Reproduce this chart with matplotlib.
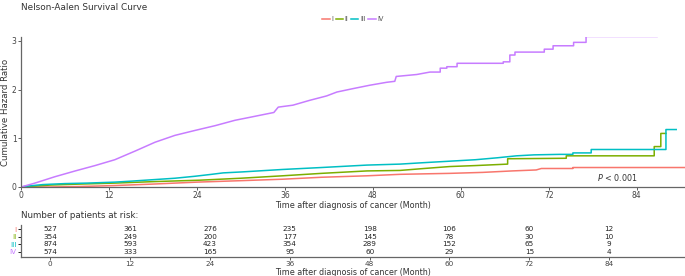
import matplotlib
matplotlib.use("Agg")
import matplotlib.pyplot as plt

groups = ["I", "II", "III", "IV"]
colors = ["#F8766D", "#7CAE00", "#00BFC4", "#C77CFF"]

t_I = [0, 4, 8, 12.8, 18, 24, 30, 35.7, 41, 47.2, 51.7, 55, 58.5, 63, 67, 70.3, 71, 75.3, 75.3, 90.6]
h_I = [0, 0.0, 0.01, 0.03, 0.06, 0.10, 0.13, 0.16, 0.20, 0.23, 0.26, 0.27, 0.28, 0.30, 0.33, 0.35, 0.38, 0.38, 0.40, 0.40]

t_II = [0, 2, 4, 8, 12.8, 18, 24.4, 30, 35.7, 41, 47.2, 51.7, 55, 58.5, 62, 66.4, 66.4, 74.4, 74.4, 86.4, 86.4, 87.3, 87.3, 88]
h_II = [0, 0.02, 0.04, 0.06, 0.08, 0.11, 0.14, 0.18, 0.23, 0.28, 0.33, 0.34, 0.38, 0.42, 0.44, 0.47, 0.58, 0.59, 0.64, 0.64, 0.83, 0.83, 1.10, 1.10]

t_III = [0, 1, 3, 6, 9, 12.8, 15, 18, 21, 23.7, 26, 27.6, 30.2, 35.7, 41, 47.2, 51.7, 55, 58.5, 62, 65, 67.6, 70, 73.5, 75.3, 75.3, 77.8, 77.8, 88, 88, 89.4]
h_III = [0, 0.02, 0.05, 0.07, 0.08, 0.10, 0.12, 0.15, 0.18, 0.22, 0.26, 0.29, 0.31, 0.36, 0.40, 0.45, 0.47, 0.50, 0.53, 0.56, 0.60, 0.64, 0.66, 0.67, 0.67, 0.70, 0.70, 0.77, 0.77, 1.18, 1.18]

t_IV = [0, 1.9, 4.6, 7.4, 10.1, 12.8, 15.6, 18.3, 21.0, 23.7, 26.5, 29.2, 31.2, 33.5, 34.5, 35.1, 37.1, 39.4, 41.7, 43.1,
        45.3, 47.6, 49.9, 51.0, 51.2, 54.0, 55.8, 57.2, 57.2, 58.1, 58.1, 59.5, 59.5, 65.8, 65.8, 66.7, 66.7, 67.4, 67.4,
        71.4, 71.4, 72.6, 72.6, 75.4, 75.4, 77.1, 77.1]
h_IV = [0, 0.08, 0.21, 0.33, 0.44, 0.56, 0.74, 0.92, 1.06, 1.16, 1.26, 1.37, 1.43, 1.50, 1.53, 1.64, 1.68, 1.78, 1.87, 1.95,
        2.02, 2.09, 2.15, 2.17, 2.27, 2.31, 2.36, 2.36, 2.44, 2.44, 2.47, 2.47, 2.54, 2.54, 2.57, 2.57, 2.71, 2.71, 2.77,
        2.77, 2.83, 2.83, 2.90, 2.90, 2.97, 2.97, 3.08]
t_IV_tail = [77.1, 86.8]
h_IV_tail = [3.08, 3.08]

risk_times = [0, 12, 24, 36, 48, 60, 72, 84]
risk_I = [527, 361, 276, 235, 198, 106, 60, 12]
risk_II = [354, 249, 200, 177, 145, 78, 30, 10]
risk_III = [874, 593, 423, 354, 289, 152, 65, 9]
risk_IV = [574, 333, 165, 95, 60, 29, 15, 4]

xticks = [0, 12, 24, 36, 48, 60, 72, 84]
yticks = [0, 1, 2, 3]

plt.rcParams['font.family'] = ['DejaVu Sans']
fig = plt.figure(figsize=(6.85, 2.76), dpi=100)
W, H = 685, 276

def rect(l, t, r, b):
    return [l / W, 1 - b / H, (r - l) / W, (b - t) / H]

ax = fig.add_axes(rect(21, 37, 685, 187))
series = [(t_I, h_I), (t_II, h_II), (t_III, h_III), (t_IV, h_IV)]
for (tt, hh), c, g in zip(series, colors, groups):
    ax.plot(tt, hh, color=c, lw=1.1, label=g)
ax.plot(t_IV_tail, h_IV_tail, color=colors[3], lw=1.1, alpha=0.3)
ax.set_xlim(0, 90.6)
ax.set_ylim(0, 3.08)
ax.set_xticks(xticks)
ax.set_yticks(yticks)
for s in ["top", "right"]:
    ax.spines[s].set_visible(False)
for s in ["left", "bottom"]:
    ax.spines[s].set_color("#666666")
    ax.spines[s].set_linewidth(0.9)
ax.tick_params(labelsize=5.5, colors="#444444", length=2, width=0.6, pad=1.2)
ax.set_xlabel("Time after diagnosis of cancer (Month)", fontsize=5.8, color="#333333", labelpad=0.5)
ax.set_ylabel("Cumulative Hazard Ratio", fontsize=6.2, color="#333333", labelpad=1)
ax.text(81.4, 0.19, "$P$ < 0.001", fontsize=5.8, ha="center", va="center", color="#333333")
leg = ax.legend(loc="lower center", bbox_to_anchor=(0.5, 1.08), ncol=4, frameon=False, fontsize=4.8,
                handlelength=1.1, handletextpad=0.25, columnspacing=0.4, borderaxespad=0)
for txt in leg.get_texts():
    txt.set_color("#555555")

fig.text(21 / W, 1 - 8 / H, "Nelson-Aalen Survival Curve", fontsize=6.4, color="#333333", va="center", ha="left")
fig.text(21 / W, 1 - 215.5 / H, "Number of patients at risk:", fontsize=6.3, color="#333333", va="center", ha="left")

rx = fig.add_axes(rect(21, 225, 685, 257))
rows = [risk_I, risk_II, risk_III, risk_IV]
for i, row in enumerate(rows):
    y = 3 - i
    for tt, n in zip(risk_times, row):
        rx.text(tt, y, str(n), fontsize=5.2, ha="center", va="center", color="#222222")
rx.set_xlim(-4.4, 95.4)
rx.set_ylim(-0.72, 3.58)
rx.set_xticks(risk_times)
rx.set_yticks([3, 2, 1, 0])
rx.set_yticklabels(groups)
for lab, c in zip(rx.get_yticklabels(), colors):
    lab.set_color(c)
for s in ["top", "right"]:
    rx.spines[s].set_visible(False)
for s in ["left", "bottom"]:
    rx.spines[s].set_color("#666666")
    rx.spines[s].set_linewidth(0.9)
rx.tick_params(labelsize=5.2, length=2, width=0.6, pad=1.0)
rx.tick_params(axis="x", colors="#444444")
rx.set_xlabel("Time after diagnosis of cancer (Month)", fontsize=5.8, color="#333333", labelpad=0.3)

fig.savefig("out.png", dpi=100)
